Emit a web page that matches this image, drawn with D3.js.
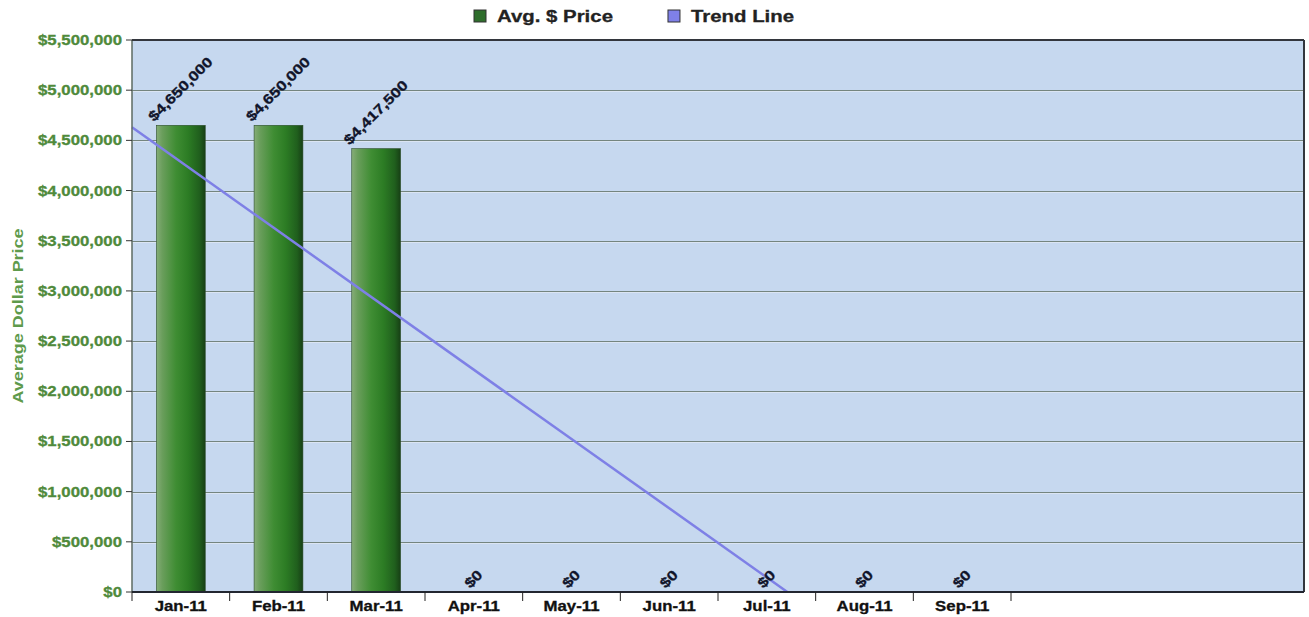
<!DOCTYPE html>
<html lang="en">
<head>
  <meta charset="UTF-8" />
  <title>Average Dollar Price</title>
  <style>
    body {
      margin: 0;
      background: #fff;
      font-family: "Liberation Sans", Arial, sans-serif;
    }
    text {
      font-weight: bold;
    }
  </style>
  <script src="https://d3js.org/d3.v7.min.js"></script>
</head>
<body>
  <div id="chart"></div>

  <script>
    // chart data
    const months = ["Jan-11", "Feb-11", "Mar-11", "Apr-11", "May-11", "Jun-11", "Jul-11", "Aug-11", "Sep-11"];
    const avgPrice = [4650000, 4650000, 4417500, 0, 0, 0, 0, 0, 0];
    const slotCount = 12; // axis has room for 12 months, only 9 are labelled
    // trend line: [position in month slots, value]
    const trendPoints = [[0, 4630000], [6.71, 0]];
    const yMax = 5500000;
    const legendLabels = ["Avg. $ Price", "Trend Line"];

    const width = 1309;
    const height = 617;
    const margin = { top: 40, right: 5, bottom: 25, left: 132 };
    const w = width - margin.left - margin.right;
    const h = height - margin.top - margin.bottom;
    const stretch = 1.2; // the text in the original is rendered wide

    const svg = d3.select("#chart")
      .append("svg")
      .attr("width", width)
      .attr("height", height);

    const defs = svg.append("defs");
    const grad = defs.append("linearGradient")
      .attr("id", "barGrad")
      .attr("x1", "0%").attr("x2", "100%")
      .attr("y1", "0%").attr("y2", "0%");
    [["0%", "#86ad78"], ["12%", "#6a9e5c"], ["40%", "#3f8d33"], ["65%", "#2c7c24"], ["88%", "#205f1d"], ["100%", "#173f15"]]
      .forEach(s => grad.append("stop").attr("offset", s[0]).attr("stop-color", s[1]));

    // helper: wide text, scaled along its own baseline
    function wideText(sel, x, y, rot, size) {
      return sel.attr("transform", `translate(${x},${y}) rotate(${rot}) scale(${stretch},1)`)
        .style("font-size", size + "px");
    }

    const g = svg.append("g")
      .attr("transform", `translate(${margin.left},${margin.top})`);

    const x = d3.scaleBand()
      .domain(d3.range(slotCount))
      .range([0, w])
      .paddingInner(0.5)
      .paddingOuter(0.25);

    const xPos = d3.scaleLinear()
      .domain([0, slotCount])
      .range([0, w]);

    const y = d3.scaleLinear()
      .domain([0, yMax])
      .range([h, 0]);

    // plot background
    g.append("rect")
      .attr("width", w)
      .attr("height", h)
      .attr("fill", "#c6d8ef");

    // grid lines
    const yTicks = y.ticks(11);
    g.selectAll(".grid")
      .data(yTicks.filter(d => d > 0 && d < yMax))
      .enter()
      .append("line")
      .attr("x1", 0)
      .attr("x2", w)
      .attr("y1", d => Math.round(y(d)) + 0.5)
      .attr("y2", d => Math.round(y(d)) + 0.5)
      .attr("stroke", "#74857f")
      .attr("stroke-width", 1);
    g.selectAll(".grid2")
      .data(yTicks.filter(d => d > 0 && d < yMax))
      .enter()
      .append("line")
      .attr("x1", 0)
      .attr("x2", w)
      .attr("y1", d => Math.round(y(d)) + 1.5)
      .attr("y2", d => Math.round(y(d)) + 1.5)
      .attr("stroke", "#dbe5f3")
      .attr("stroke-width", 1);

    // bars
    g.selectAll(".bar")
      .data(avgPrice)
      .enter()
      .append("rect")
      .attr("class", "bar")
      .attr("x", (d, i) => x(i))
      .attr("width", x.bandwidth())
      .attr("y", d => y(d))
      .attr("height", d => h - y(d))
      .attr("fill", "url(#barGrad)")
      .attr("stroke", "#2b4d2a")
      .attr("stroke-width", 0.6);

    // trend line
    const line = d3.line()
      .x(d => xPos(d[0]))
      .y(d => y(d[1]));
    g.append("path")
      .datum(trendPoints)
      .attr("d", line)
      .attr("fill", "none")
      .attr("stroke", "#7e80e6")
      .attr("stroke-width", 2.5);

    // value labels
    g.selectAll(".val")
      .data(avgPrice)
      .enter()
      .append("text")
      .attr("class", "val")
      .text(d => "$" + d3.format(",")(d))
      .attr("fill", "#10142a")
      .attr("stroke", "#10142a")
      .attr("stroke-width", 0.3)
      .style("font-size", "14px")
      .each(function (d, i) {
        const len = this.getComputedTextLength() * stretch;
        const cx = x(i) + x.bandwidth() / 2;
        const ox = cx - len * 0.707 / 2 + 3;
        const oy = y(d) - 3;
        wideText(d3.select(this), ox, oy, -45, 14);
      });

    // frame
    g.append("line")
      .attr("x1", 0).attr("x2", 0).attr("y1", 0).attr("y2", h)
      .attr("stroke", "#5d6b62").attr("stroke-width", 1.5);
    g.append("line")
      .attr("x1", 0).attr("x2", w).attr("y1", 0).attr("y2", 0)
      .attr("stroke", "#33363d").attr("stroke-width", 2);
    g.append("line")
      .attr("x1", w).attr("x2", w).attr("y1", 0).attr("y2", h)
      .attr("stroke", "#33363d").attr("stroke-width", 2);
    g.append("line")
      .attr("x1", 0).attr("x2", w).attr("y1", h).attr("y2", h)
      .attr("stroke", "#222630").attr("stroke-width", 2.2);

    // y axis ticks + labels
    g.selectAll(".ytick")
      .data(yTicks)
      .enter()
      .append("line")
      .attr("x1", -6).attr("x2", 0)
      .attr("y1", d => y(d)).attr("y2", d => y(d))
      .attr("stroke", "#333");
    g.selectAll(".ylab")
      .data(yTicks)
      .enter()
      .append("text")
      .attr("class", "ylab")
      .text(d => "$" + d3.format(",")(d))
      .attr("text-anchor", "end")
      .attr("fill", "#4f8a3b")
      .attr("stroke", "#4f8a3b")
      .attr("stroke-width", 0.3)
      .each(function (d) {
        wideText(d3.select(this), -10, y(d) + 5, 0, 14);
      });

    // x axis ticks + labels
    g.selectAll(".xtick")
      .data(d3.range(months.length + 1))
      .enter()
      .append("line")
      .attr("x1", d => xPos(d)).attr("x2", d => xPos(d))
      .attr("y1", h).attr("y2", h + 9)
      .attr("stroke", "#222");
    g.selectAll(".xlab")
      .data(months)
      .enter()
      .append("text")
      .attr("class", "xlab")
      .text(d => d)
      .attr("text-anchor", "middle")
      .attr("fill", "#111")
      .attr("stroke", "#111")
      .attr("stroke-width", 0.3)
      .each(function (d, i) {
        wideText(d3.select(this), x(i) + x.bandwidth() / 2, h + 19, 0, 14);
      });

    // y axis title
    svg.append("text")
      .text("Average Dollar Price")
      .attr("text-anchor", "middle")
      .attr("fill", "#5e9a4c")
      .call(s => wideText(s, 23, margin.top + h / 2, -90, 15));

    // legend
    const legendColors = ["#2f6e2c", "#7f80e8"];
    const legend = svg.append("g").attr("transform", "translate(474,10)");
    let lx = 0;
    legendLabels.forEach((label, i) => {
      const item = legend.append("g").attr("transform", `translate(${lx},0)`);
      item.append("rect")
        .attr("width", 12).attr("height", 12)
        .attr("fill", legendColors[i])
        .attr("stroke", "#333").attr("stroke-width", 1);
      const t = item.append("text")
        .text(label)
        .attr("fill", "#222")
        .attr("stroke", "#222")
        .attr("stroke-width", 0.3);
      wideText(t, 23, 12, 0, 17);
      lx += 23 + t.node().getComputedTextLength() * stretch + 55;
    });
  </script>
</body>
</html>
